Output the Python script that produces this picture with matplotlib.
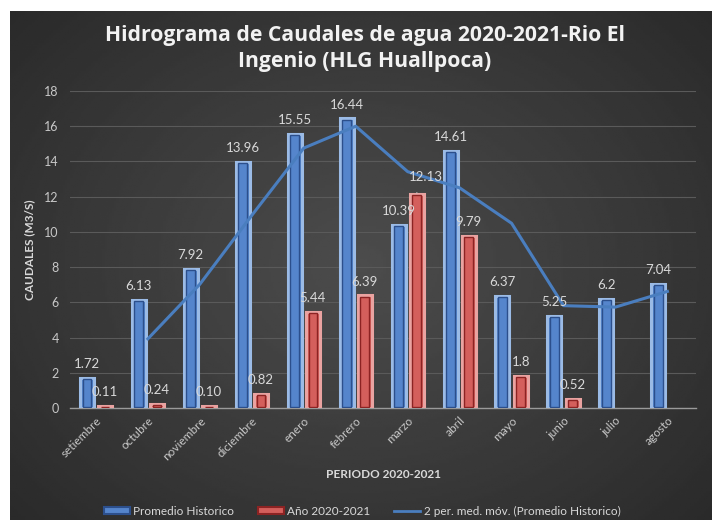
import numpy as np
import matplotlib
matplotlib.use("Agg")
import matplotlib.pyplot as plt
from matplotlib.patches import Rectangle
from matplotlib.lines import Line2D

plt.rcParams["font.family"] = ["Lato", "DejaVu Sans"]

meses = ["setiembre", "octubre", "noviembre", "diciembre", "enero", "febrero",
         "marzo", "abril", "mayo", "junio", "julio", "agosto"]
promedio = [1.72, 6.13, 7.92, 13.96, 15.55, 16.44, 10.39, 14.61, 6.37, 5.25, 6.2, 7.04]
promedio_lbl = ["1.72", "6.13", "7.92", "13.96", "15.55", "16.44", "10.39", "14.61",
                "6.37", "5.25", "6.2", "7.04"]
anio = [0.11, 0.24, 0.10, 0.82, 5.44, 6.39, 12.13, 9.79, 1.8, 0.52]
anio_lbl = ["0.11", "0.24", "0.10", "0.82", "5.44", "6.39", "12.13", "9.79", "1.8", "0.52"]
# 2 per. med. mov. (octubre .. agosto)
media_movil = [3.93, 7.03, 10.94, 14.76, 16.00, 13.42, 12.50, 10.49, 5.81, 5.73, 6.62]

W, H = 718, 522
fig = plt.figure(figsize=(W / 100, H / 100), dpi=100, facecolor="white")

# dark background with soft radial gradient
bg = fig.add_axes([10 / W, 2 / H, 702 / W, 509 / H], zorder=0)
yy, xx = np.mgrid[-1:1:200j, -1:1:300j]
r = np.sqrt(xx ** 2 + (yy * 0.9) ** 2)
bg.imshow(0.30 - 0.14 * np.clip(r, 0, 1.4) / 1.4, cmap="gray", vmin=0, vmax=1,
          aspect="auto", extent=[0, 1, 0, 1])
bg.set_axis_off()

ax = fig.add_axes([70 / W, (H - 408) / H, 626 / W, 317 / H], zorder=1)
ax.patch.set_alpha(0)

txt = "#d9d9d9"
x = np.arange(len(meses))
w = 0.27
off = 0.175

blue_fill, blue_out, blue_in = "#5585cc", "#9bbbe6", "#2c4f8c"
red_fill, red_out, red_in = "#d45f5c", "#eaa3a1", "#8c2323"

ax.bar(x - off, promedio, w, color=blue_fill, edgecolor=blue_out, linewidth=2.2, zorder=3)
ax.bar(x - off, np.array(promedio) - 0.12, w * 0.62, bottom=0.06, fill=False,
       edgecolor=blue_in, linewidth=1.0, zorder=4)
xa = np.arange(len(anio))
ax.bar(xa + off, anio, w, color=red_fill, edgecolor=red_out, linewidth=2.2, zorder=3)
ax.bar(xa + off, np.maximum(np.array(anio) - 0.12, 0), w * 0.62, bottom=0.06, fill=False,
       edgecolor=red_in, linewidth=1.0, zorder=4)

ax.plot(x[1:], media_movil, color="#4a7ebf", linewidth=2.2, zorder=5)

for xi, v, s in zip(x, promedio, promedio_lbl):
    ax.text(xi - off, v + 0.45, s, ha="center", va="bottom", color=txt, fontsize=9.5, zorder=6)
for xi, v, s in zip(xa, anio, anio_lbl):
    if s == "12.13":
        ax.annotate(s, xy=(xi + off, v + 0.08), xytext=(xi + off + 0.18, v + 1.0),
                    ha="center", va="center", color=txt, fontsize=9.5, zorder=6,
                    arrowprops=dict(arrowstyle="-", color="#c8c8c8", lw=0.9,
                                    shrinkA=6, shrinkB=0))
    else:
        ax.text(xi + off, v + 0.45, s, ha="center", va="bottom", color=txt, fontsize=9.5, zorder=6)

ax.set_xlim(-0.5, 11.55)
ax.set_ylim(0, 18)
ax.set_yticks(range(0, 19, 2))
ax.yaxis.grid(True, color="#5a5a5a", linewidth=0.8, zorder=0)
ax.set_axisbelow(True)
for sp in ["left", "right", "top"]:
    ax.spines[sp].set_visible(False)
ax.spines["bottom"].set_color("#9a9a9a")
ax.spines["bottom"].set_linewidth(1.0)
ax.tick_params(axis="both", length=0, colors="#c8c8c8", labelsize=9)
ax.tick_params(axis="y", pad=8)
ax.tick_params(axis="x", pad=5)
ax.set_xticks(x)
ax.set_xticklabels(meses, rotation=45, ha="right", rotation_mode="anchor", fontsize=8.5)
ax.set_ylabel("CAUDALES (M3/S)", color=txt, fontsize=8.5, fontweight="bold")
ax.yaxis.set_label_coords((35 - 70) / 626, 0.5)

fig.text(383 / W, 1 - 475 / H, "PERIODO 2020-2021", ha="center", va="center",
         color=txt, fontsize=8.5, fontweight="bold")

tfont = dict(ha="center", va="center", color="#f2f2f2", fontsize=15.2,
             fontweight="bold", family=["Open Sans", "DejaVu Sans"])
fig.text(365 / W, 1 - 36 / H, "Hidrograma de Caudales de agua 2020-2021-Rio El", **tfont)
fig.text(365 / W, 1 - 62 / H, "Ingenio (HLG Huallpoca)", **tfont)

handles = [
    Rectangle((0, 0), 1, 1, facecolor=blue_fill, edgecolor=blue_in, linewidth=1.5),
    Rectangle((0, 0), 1, 1, facecolor=red_fill, edgecolor=red_in, linewidth=1.5),
    Line2D([], [], color="#4a7ebf", linewidth=2),
]
fig.legend(handles, ["Promedio Historico", "Año 2020-2021",
                     "2 per. med. móv. (Promedio Historico)"],
           loc="center", bbox_to_anchor=(362 / W, 1 - 511 / H), ncol=3,
           frameon=False, fontsize=8.5, labelcolor=txt, handlelength=2.2,
           handleheight=0.6, columnspacing=2.0, handletextpad=0.3)

fig.savefig("out.png", dpi=100, facecolor="white")
